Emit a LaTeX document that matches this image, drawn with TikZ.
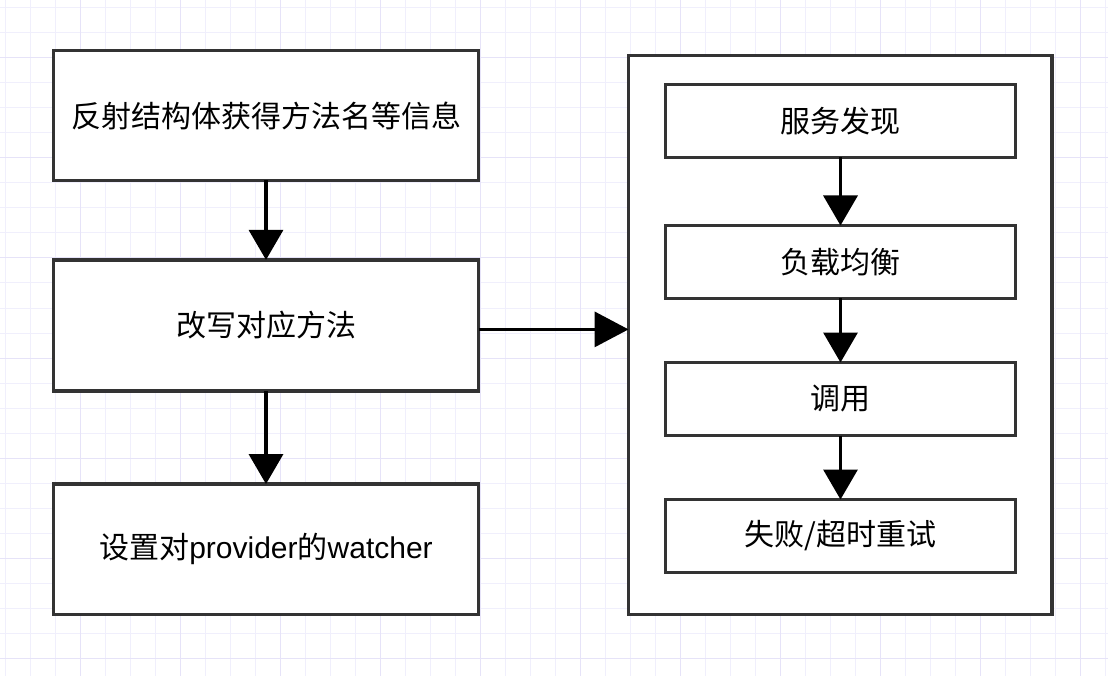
\documentclass[tikz,border=0pt]{standalone}
\usepackage{fontspec}
\setmainfont{Liberation Sans}
\newfontfamily\cjk{Noto Sans CJK SC}
\usetikzlibrary{arrows.meta}
\definecolor{gminor}{HTML}{F0EFFC}
\definecolor{gmajor}{HTML}{E6E3F8}
\definecolor{edge}{HTML}{333333}
\tikzset{
  box/.style={draw=edge, line width=3.6pt, fill=white, outer sep=0pt, inner sep=0pt,
    font=\fontsize{30}{36}\selectfont\cjk, align=center},
  bigbox/.style={box, minimum width=425pt},
  smallbox/.style={box, minimum width=350pt, minimum height=73pt},
  arr/.style={draw=black, line width=3.4pt, -{Triangle[length=30pt,width=34pt]}},
  harr/.style={draw=black, line width=3.4pt, -{Triangle[length=34pt,width=35pt]}},
}
\begin{document}
\begin{tikzpicture}[x=1pt,y=-1pt]
\useasboundingbox (0,0) rectangle (1108,676);
\fill[white] (0,0) rectangle (1108,676);
% grid
\foreach \gx in {5,30,...,1105} {\draw[gminor, line width=1pt] (\gx,0) -- (\gx,676);}
\foreach \gy in {8,33,...,675} {\draw[gminor, line width=1pt] (0,\gy) -- (1108,\gy);}
\foreach \gx in {80,180,...,1080} {\draw[gmajor, line width=1pt] (\gx,0) -- (\gx,676);}
\foreach \gy in {58,158,...,658} {\draw[gmajor, line width=1pt] (0,\gy) -- (1108,\gy);}
% left column
\node[bigbox, minimum height=130pt] (b1) at (266,115.5) {反射结构体获得方法名等信息};
\node[bigbox, minimum height=131pt] (b2) at (266,325.4) {改写对应方法};
\node[bigbox, minimum height=130.5pt] (b3) at (266,549.3) {设置对{\fontspec{Liberation Sans}provider}的{\fontspec{Liberation Sans}watcher}};
% right container
\node[box, minimum width=423.5pt, minimum height=559pt] (cont) at (840.3,335) {};
\node[smallbox] (i1) at (840.5,121) {服务发现};
\node[smallbox] (i2) at (840.5,262) {负载均衡};
\node[smallbox] (i3) at (840.5,399) {调用};
\node[smallbox] (i4) at (840.5,536) {失败/超时重试};
% arrows
\draw[arr] (b1.south) -- (b2.north);
\draw[arr] (b2.south) -- (b3.north);
\draw[arr] (i1.south) -- (i2.north);
\draw[arr] (i2.south) -- (i3.north);
\draw[arr] (i3.south) -- (i4.north);
\coordinate (h) at ([yshift=-4pt]b2.east);
\draw[harr] (h) -- (h -| cont.west);
\end{tikzpicture}
\end{document}
